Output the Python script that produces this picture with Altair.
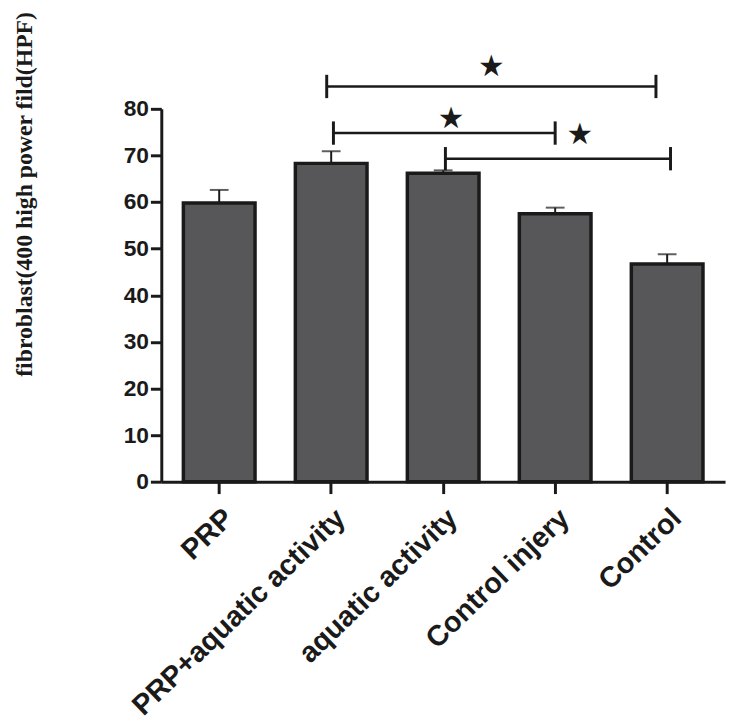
import altair as alt
import pandas as pd

# ---- data ----
groups = ["PRP", "PRP+aquatic activity", "aquatic activity", "Control injery", "Control"]
means = [59.8, 68.3, 66.2, 57.5, 46.7]
sems = [2.8, 2.6, 0.6, 1.3, 2.1]

# significance brackets (x in group-index units, y in data units)
bracket_start = [0.96, 1.02, 2.02]
bracket_end = [3.90, 3.00, 4.03]
bracket_y = [84.8, 74.8, 69.3]
cap_half = 2.5

star_x = [2.43, 2.07, 3.22]
star_y = [89.0, 77.9, 74.4]
star_text = ["★", "★", "★"]

y_ticks = [0, 10, 20, 30, 40, 50, 60, 70, 80]

# ---- tables ----
df = pd.DataFrame({"group": groups, "mean": means, "sem": sems})
df["top"] = df["mean"] + df["sem"]

br = pd.DataFrame({"x1": bracket_start, "x2": bracket_end, "y": bracket_y})
caps = pd.DataFrame({
    "x": bracket_start + bracket_end,
    "y": bracket_y + bracket_y,
})
caps["ylo"] = caps["y"] - cap_half
caps["yhi"] = caps["y"] + cap_half
stars = pd.DataFrame({"x": star_x, "y": star_y, "t": star_text})

INK = "#1a1a1a"
yscale = alt.Scale(domain=[0, 80], nice=False, zero=True)
yaxis = alt.Axis(
    values=y_ticks, grid=False, domainWidth=3, domainColor=INK, tickWidth=3,
    tickColor=INK, tickSize=11, labelFont="Liberation Sans", labelFontWeight="bold",
    labelFontSize=23, labelColor=INK, labelPadding=2,
    title="fibroblast(400 high power fild(HPF)", titleFont="Liberation Serif",
    titleFontWeight="bold", titleFontSize=24, titleColor=INK, titleAngle=270,
    titleX=-131, titleY=86, titleAlign="center", titleBaseline="alphabetic",
)
xscale = alt.Scale(domain=groups, paddingInner=0.36, paddingOuter=0.197)
xaxis = alt.Axis(
    grid=False, domainWidth=3, domainColor=INK, tickWidth=3, tickColor=INK,
    tickSize=12, labelFont="Liberation Sans", labelFontWeight="bold",
    labelFontSize=29, labelColor=INK, labelAngle=-44, labelAlign="right",
    labelBaseline="top", labelPadding=10, title=None, labelLimit=400,
)


def X():
    return alt.X("group:N", scale=xscale, axis=xaxis, sort=groups)


def Y(field):
    return alt.Y(field, type="quantitative", scale=yscale, axis=yaxis)


bars = alt.Chart(df).mark_bar(fill="#575759", stroke=INK, strokeWidth=3.5).encode(
    x=X(), y=Y("mean")
)
err = alt.Chart(df).mark_rule(color=INK, strokeWidth=2).encode(
    x=X(), y=Y("mean"), y2="top"
)
errcap = alt.Chart(df).mark_tick(color=INK, thickness=2, size=19, orient="horizontal").encode(
    x=X(), y=Y("top")
)
main = alt.layer(err, bars, errcap)

ax = alt.Scale(domain=[-0.517, 4.517], nice=False, zero=False)


def QX(field):
    return alt.X(field, type="quantitative", scale=ax, axis=None)


hl = alt.Chart(br).mark_rule(color=INK, strokeWidth=2.5).encode(
    x=QX("x1"), x2="x2", y=Y("y")
)
vc = alt.Chart(caps).mark_rule(color=INK, strokeWidth=3).encode(
    x=QX("x"), y=Y("ylo"), y2="yhi"
)
st = alt.Chart(stars).mark_text(
    font="DejaVu Sans", fontSize=30, color=INK, baseline="middle", align="center"
).encode(x=QX("x"), y=Y("y"), text="t:N")
annot = alt.layer(hl, vc, st)

chart = alt.layer(main, annot).resolve_scale(x="independent").properties(
    width=570, height=377,
    padding={"left": 155, "top": 98, "right": 5, "bottom": 238},
    autosize=alt.AutoSizeParams(type="none"),
).configure(background="white").configure_view(stroke=None)

chart.save("out.html", embed_options={"renderer": "svg", "actions": False})
